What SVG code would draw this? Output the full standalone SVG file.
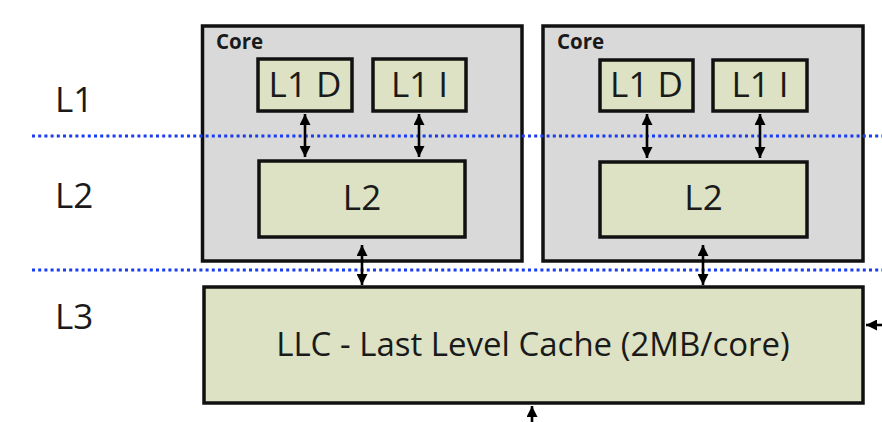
<svg xmlns="http://www.w3.org/2000/svg" width="882" height="422" viewBox="0 0 882 422">
<style>
.core{fill:#d9d9d9;stroke:#111;stroke-width:3.5}
.box{fill:#dce2c3;stroke:#111;stroke-width:3.5}
.t{font-family:"Open Sans","Noto Sans",sans-serif;fill:#1a1a1a}
.big{font-size:35px}
.llc{font-size:33px}
.lbl{font-size:20.5px;font-weight:bold}
.dot{stroke:#1a3cf0;stroke-width:3;stroke-dasharray:3 3.2;fill:none}
.ar{stroke:#000;stroke-width:2.6;fill:none}
</style>
<defs>
<marker id="ah" viewBox="0 0 10 10" refX="10" refY="5" markerWidth="11" markerHeight="11" markerUnits="userSpaceOnUse" orient="auto-start-reverse">
<path d="M0,0 L10,5 L0,10 Z" fill="#000"/>
</marker>
</defs>
<rect width="882" height="422" fill="#fff"/>
<g id="core1">
<rect class="core" x="202.5" y="26" width="319.5" height="235"/>
<text class="t lbl" x="216" y="49">Core</text>
</g>
<g id="core2">
<rect class="core" x="543" y="26" width="320" height="235"/>
<text class="t lbl" x="557" y="49">Core</text>
</g>
<g id="levels">
<line class="dot" x1="32" y1="136" x2="882" y2="136"/>
<line class="dot" x1="32" y1="270" x2="882" y2="270"/>
<text class="t big" x="55" y="112">L1</text>
<text class="t big" x="55" y="208">L2</text>
<text class="t big" x="55" y="329">L3</text>
</g>
<g id="c1-l1d">
<rect class="box" x="258" y="59" width="94" height="52"/>
<text class="t big" x="305" y="97" text-anchor="middle">L1 D</text>
</g>
<g id="c1-l1i">
<rect class="box" x="373" y="59" width="93" height="52"/>
<text class="t big" x="419.5" y="97" text-anchor="middle">L1 I</text>
</g>
<g id="c1-l2">
<rect class="box" x="259" y="161" width="206" height="76"/>
<text class="t big" x="362" y="210" text-anchor="middle">L2</text>
</g>
<g id="c2-l1d">
<rect class="box" x="600" y="60" width="93" height="51"/>
<text class="t big" x="646.5" y="97" text-anchor="middle">L1 D</text>
</g>
<g id="c2-l1i">
<rect class="box" x="713" y="60" width="94" height="51"/>
<text class="t big" x="760" y="97" text-anchor="middle">L1 I</text>
</g>
<g id="c2-l2">
<rect class="box" x="600" y="162" width="207" height="75"/>
<text class="t big" x="703.5" y="210" text-anchor="middle">L2</text>
</g>
<g id="llc">
<rect class="box" x="204" y="287" width="659" height="116"/>
<text class="t llc" x="533" y="356" text-anchor="middle">LLC - Last Level Cache (2MB/core)</text>
</g>
<g id="connectors">
<line class="ar" x1="305" y1="114" x2="305" y2="157" marker-start="url(#ah)" marker-end="url(#ah)"/>
<line class="ar" x1="419" y1="114" x2="419" y2="157" marker-start="url(#ah)" marker-end="url(#ah)"/>
<line class="ar" x1="647" y1="114" x2="647" y2="158" marker-start="url(#ah)" marker-end="url(#ah)"/>
<line class="ar" x1="760" y1="114" x2="760" y2="158" marker-start="url(#ah)" marker-end="url(#ah)"/>
<line class="ar" x1="362" y1="245" x2="362" y2="285" marker-start="url(#ah)" marker-end="url(#ah)"/>
<line class="ar" x1="703" y1="245" x2="703" y2="285" marker-start="url(#ah)" marker-end="url(#ah)"/>
<line class="ar" x1="882" y1="325" x2="866" y2="325" marker-end="url(#ah)"/>
<line class="ar" x1="532" y1="422" x2="532" y2="406" marker-end="url(#ah)"/>
</g>
</svg>
